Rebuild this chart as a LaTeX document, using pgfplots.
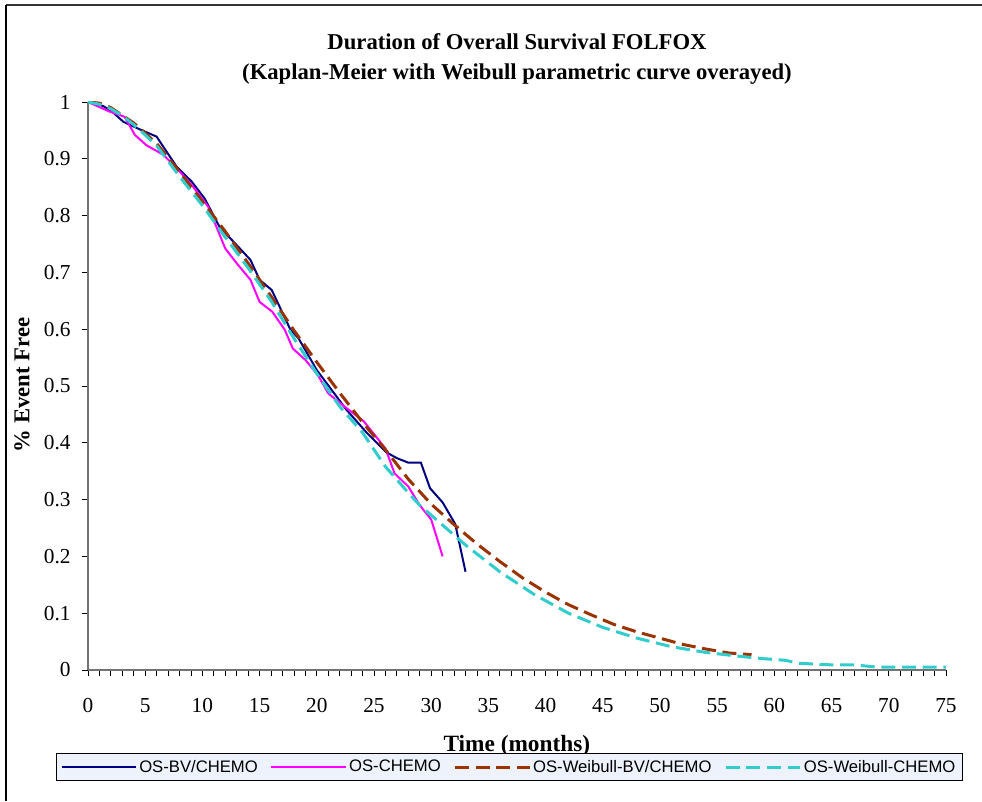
\documentclass[border=0pt]{standalone}
\usepackage{fontspec}
\setmainfont{Liberation Serif}
\newfontfamily\arialfont{Liberation Sans}
\usepackage{pgfplots}
\pgfplotsset{compat=1.18}
\definecolor{cnavy}{HTML}{000080}
\definecolor{cmag}{HTML}{FF00FF}
\definecolor{cbrown}{HTML}{993300}
\definecolor{ccyan}{HTML}{33CCCC}
\definecolor{legbg}{HTML}{EEF2FC}
\begin{document}
\begin{tikzpicture}
\path[use as bounding box] (0pt,0pt) rectangle (736.5pt,600.75pt);
\draw[line width=1.3pt,black!80] (4.5pt,597pt) -- (736.5pt,597pt);
\draw[line width=0.8pt,black] (4.5pt,597pt) -- (4.5pt,0pt);
\begin{axis}[
  at={(66pt,98.25pt)}, anchor=south west,
  scale only axis, width=643.5pt, height=426pt,
  xmin=0, xmax=75, ymin=0, ymax=1,
  axis x line*=bottom, axis y line*=left,
  axis line style={black!55, line width=0.9pt},
  xtick={0,5,...,75}, minor x tick num=4,
  ytick={0,0.1,0.2,0.3,0.4,0.5,0.6,0.7,0.8,0.9,1},
  yticklabels={0,0.1,0.2,0.3,0.4,0.5,0.6,0.7,0.8,0.9,1},
  tick align=outside,
  major tick length=4.5pt, minor tick length=4.5pt,
  tick style={black, line width=0.6pt},
  /pgf/number format/assume math mode=true,
  tick label style={font=\fontsize{16}{18}\selectfont},
  xticklabel style={yshift=-13pt},
  yticklabel style={xshift=-5pt},
  title={\textbf{Duration of Overall Survival FOLFOX}\\[2pt]\textbf{(Kaplan-Meier with Weibull parametric curve overayed)}},
  title style={font=\fontsize{17}{20.5}\selectfont, align=center, at={(0.5,1.061)}, anchor=center},
  xlabel={\textbf{Time (months)}},
  xlabel style={font=\fontsize{17.5}{20}\selectfont, at={(0.4999,-0.133)}, anchor=center},
  ylabel={\textbf{\% Event Free}},
  ylabel style={font=\fontsize{17}{20}\selectfont, at={(-0.0769,0.502)}, anchor=center},
  legend columns=4,
  legend style={at={(0.4907,-0.1708)}, anchor=center, fill=legbg, draw=black, line width=0.6pt,
    font=\arialfont\fontsize{12.5}{14}\selectfont, inner xsep=3.5pt, inner ysep=2.5pt,
    nodes={inner xsep=1.5pt, inner ysep=2.5pt},
    /tikz/every even column/.append style={column sep=8pt}},
  legend image code/.code={\draw[#1] (0pt,0pt) -- (56pt,0pt);},
]
\addplot[cnavy, line width=1.5pt] coordinates {
(0,1) (1.3,0.993) (2,0.985) (3.1,0.965) (4.4,0.953) (6.0,0.939) (7.75,0.886)
(9.06,0.860) (10.2,0.830) (11.5,0.780) (13.0,0.748) (14.2,0.722) (15.0,0.687)
(16.06,0.669) (17.7,0.599) (18.4,0.584) (20.0,0.528) (22.6,0.458) (24.4,0.417)
(26.1,0.383) (27.0,0.373) (28.0,0.365) (29.1,0.365) (29.9,0.320) (31.0,0.295)
(32.1,0.257) (33.0,0.173)};
\addlegendentry{OS-BV/CHEMO}
\addplot[cmag, line width=1.5pt] coordinates {
(0,1) (1.9,0.983) (3.2,0.974) (4.1,0.942) (5.1,0.924) (6.6,0.907) (7.9,0.880)
(9.06,0.854) (10.5,0.816) (12.0,0.742) (13.0,0.716) (14.2,0.687) (15.0,0.648)
(16.1,0.631) (17.2,0.599) (17.9,0.566) (19.0,0.546) (20.1,0.519) (21.0,0.487)
(22.6,0.461) (24.1,0.438) (26.0,0.390) (26.8,0.346) (28.0,0.323) (29.0,0.290)
(30.0,0.265) (31.0,0.200)};
\addlegendentry{OS-CHEMO}
\addplot[cbrown, line width=2.25pt, dash pattern=on 10.5pt off 5pt] coordinates {
(0,1.000) (1,0.998) (2,0.990) (4,0.963) (6,0.927) (8,0.877) (10,0.825) (12,0.772)
(14,0.716) (16,0.658) (18,0.598) (20,0.542) (22,0.488) (24,0.436) (26,0.388)
(28,0.336) (30,0.292) (32,0.256) (34,0.222) (36,0.191) (38,0.162) (40,0.137)
(42,0.115) (44,0.097) (46,0.080) (48,0.067) (50,0.056) (52,0.045) (54,0.037)
(56,0.030) (58,0.027)};
\addlegendentry{OS-Weibull-BV/CHEMO}
\addplot[ccyan, line width=2.25pt, dash pattern=on 10.5pt off 5pt] coordinates {
(0,1.000) (1,0.996) (2,0.988) (3,0.976) (4,0.960) (5,0.942) (6,0.923) (8,0.869)
(10,0.818) (12,0.762) (14,0.708) (16,0.650) (18,0.584) (20,0.522) (22,0.464)
(24,0.418) (26,0.358) (28,0.312) (29,0.290) (31,0.255) (33,0.220) (36,0.173)
(39,0.133) (42,0.100) (45,0.075) (48,0.056) (51,0.041) (54,0.031) (57,0.024)
(59,0.020) (61,0.017) (62,0.012) (65,0.009) (67,0.009) (69,0.005) (75,0.005)};
\addlegendentry{OS-Weibull-CHEMO}
\end{axis}
\end{tikzpicture}
\end{document}
